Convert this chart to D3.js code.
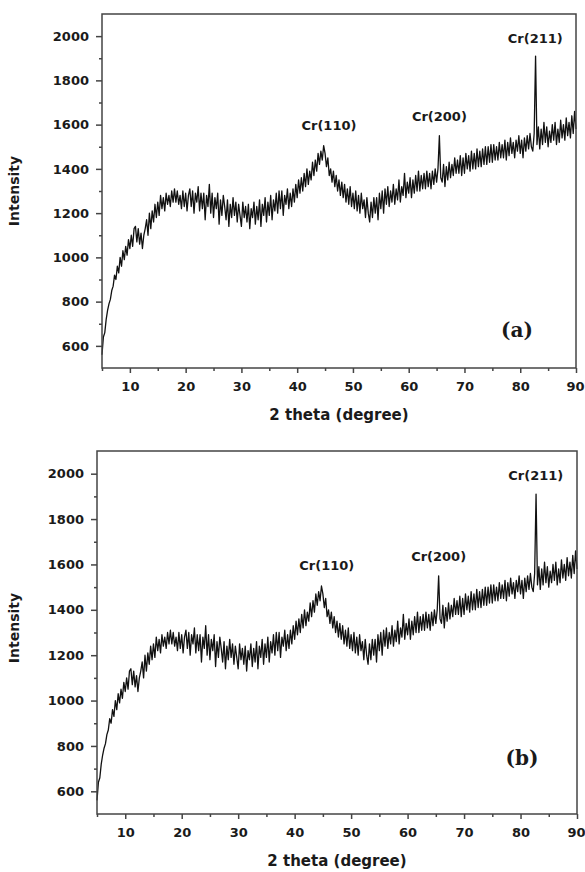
<!DOCTYPE html>
<html>
<head>
<meta charset="utf-8">
<script src="https://cdn.jsdelivr.net/npm/d3@7"></script>
<style>
  body { margin: 0; background: #fff; }
  text { font-family: "DejaVu Sans", "Liberation Sans", Arial, sans-serif; font-weight: bold; fill: #1a1a1a; }
</style>
</head>
<body>
<div id="chart"></div>
<script>
// scan grid: 2 theta from 5 deg, one reading every 0.25 deg
var thetaStart = 5,
	thetaStep = 0.25;

// intensity, 4 readings per degree (5.00, 5.25, 5.50, 5.75, ...)
var intensity = [
	560, 640, 660, 720,     760, 790, 810, 850,     870, 920, 900, 960,
	930, 1000, 960, 1030,   990, 1050, 1010, 1080,  1040, 1100, 1050, 1130,
	1140, 1070, 1130, 1060, 1110, 1040, 1100, 1130, 1170, 1100, 1200, 1130,
	1210, 1160, 1240, 1180, 1250, 1190, 1280, 1220, 1270, 1210, 1290, 1240,
	1280, 1230, 1300, 1250, 1310, 1250, 1300, 1240, 1280, 1220, 1300, 1230,
	1290, 1210, 1280, 1310, 1230, 1300, 1200, 1290, 1250, 1320, 1210, 1290,
	1220, 1290, 1170, 1280, 1230, 1330, 1200, 1290, 1180, 1270, 1220, 1290,
	1150, 1260, 1190, 1280, 1230, 1170, 1260, 1140, 1240, 1180, 1270, 1190,
	1250, 1160, 1240, 1190, 1140, 1250, 1180, 1230, 1160, 1240, 1130, 1220,
	1180, 1250, 1150, 1230, 1170, 1260, 1140, 1240, 1190, 1270, 1160, 1250,
	1190, 1280, 1170, 1260, 1210, 1290, 1200, 1300, 1220, 1300, 1190, 1280,
	1240, 1310, 1220, 1290, 1230, 1310, 1250, 1330, 1270, 1350, 1290, 1360,
	1300, 1380, 1320, 1400, 1330, 1390, 1350, 1430, 1370, 1440, 1390, 1470,
	1420, 1480, 1440, 1505, 1470, 1410, 1450, 1370, 1400, 1340, 1390, 1320,
	1370, 1300, 1350, 1280, 1340, 1270, 1330, 1250, 1310, 1240, 1320, 1230,
	1290, 1220, 1300, 1210, 1280, 1200, 1290, 1220, 1260, 1180, 1270, 1200,
	1160, 1250, 1180, 1270, 1200, 1270, 1170, 1290, 1220, 1300, 1200, 1310,
	1240, 1320, 1230, 1300, 1250, 1330, 1240, 1310, 1260, 1350, 1250, 1320,
	1280, 1380, 1270, 1340, 1290, 1360, 1270, 1350, 1290, 1370, 1300, 1390,
	1300, 1370, 1310, 1380, 1310, 1390, 1320, 1380, 1310, 1390, 1330, 1400,
	1340, 1400, 1550, 1360, 1340, 1420, 1320, 1410, 1350, 1430, 1360, 1420,
	1370, 1450, 1380, 1440, 1380, 1460, 1370, 1450, 1380, 1470, 1400, 1460,
	1390, 1480, 1400, 1470, 1400, 1490, 1410, 1480, 1410, 1490, 1420, 1500,
	1420, 1500, 1430, 1510, 1430, 1510, 1440, 1500, 1440, 1520, 1450, 1510,
	1450, 1530, 1440, 1520, 1460, 1540, 1470, 1520, 1450, 1530, 1480, 1550,
	1470, 1530, 1450, 1540, 1480, 1550, 1490, 1560, 1500, 1480, 1560, 1910,
	1510, 1590, 1490, 1580, 1510, 1610, 1520, 1590, 1500, 1570, 1520, 1600,
	1530, 1610, 1510, 1580, 1520, 1620, 1540, 1600, 1530, 1630, 1550, 1610,
	1540, 1640, 1560, 1660, 1580
];

var xMajorTicks = [10, 20, 30, 40, 50, 60, 70, 80, 90];
var xMinorTicks = [5, 15, 25, 35, 45, 55, 65, 75, 85];
var yMajorTicks = [600, 800, 1000, 1200, 1400, 1600, 1800, 2000];
var yMinorTicks = [700, 900, 1100, 1300, 1500, 1700, 1900];

var peakNames = ['Cr(110)', 'Cr(200)', 'Cr(211)'];
var peakTheta = [45.7, 65.5, 82.7];
var peakLabelIntensity = [1575, 1615, 1970];

var panelNames = ['(a)', '(b)'];

var points = intensity.map(function(v, i) {
	return { theta: thetaStart + i * thetaStep, value: v };
});

var svg = d3.select('#chart')
	.append('svg')
	.attr('width', 585)
	.attr('height', 872);

// where each panel sits on the page
var panels = [
	{ left: 102, right: 576, top: 14, bottom: 368, labelDx: 59, labelDy: 38, yTitle: 191 },
	{ left: 97, right: 577, top: 451, bottom: 814, labelDx: 55, labelDy: 56, yTitle: 628 }
];

panels.forEach(function(p, k) {
	var xScale = d3.scaleLinear()
		.domain([5, 90])
		.range([p.left, p.right]);

	var yScale = d3.scaleLinear()
		.domain([500, 2100])
		.range([p.bottom, p.top]);

	var g = svg.append('g');

	// curve
	var line = d3.line()
		.x(function(d) { return xScale(d.theta); })
		.y(function(d) { return yScale(d.value); });

	g.append('path')
		.datum(points)
		.attr('d', line)
		.attr('fill', 'none')
		.attr('stroke', '#111')
		.attr('stroke-width', 1.3)
		.attr('stroke-linejoin', 'round');

	// frame
	g.append('rect')
		.attr('x', p.left)
		.attr('y', p.top)
		.attr('width', p.right - p.left)
		.attr('height', p.bottom - p.top)
		.attr('fill', 'none')
		.attr('stroke', '#444')
		.attr('stroke-width', 1.5);

	// axes
	var xMajor = g.append('g')
		.attr('transform', 'translate(0,' + p.bottom + ')')
		.call(d3.axisBottom(xScale).tickValues(xMajorTicks).tickSize(5).tickPadding(9)
			.tickFormat(d3.format('d')));
	var xMinor = g.append('g')
		.attr('transform', 'translate(0,' + p.bottom + ')')
		.call(d3.axisBottom(xScale).tickValues(xMinorTicks).tickSize(3).tickFormat(''));
	var yMajor = g.append('g')
		.attr('transform', 'translate(' + p.left + ',0)')
		.call(d3.axisLeft(yScale).tickValues(yMajorTicks).tickSize(6).tickPadding(7)
			.tickFormat(d3.format('d')));
	var yMinor = g.append('g')
		.attr('transform', 'translate(' + p.left + ',0)')
		.call(d3.axisLeft(yScale).tickValues(yMinorTicks).tickSize(3).tickFormat(''));

	[xMajor, xMinor, yMajor, yMinor].forEach(function(ax) {
		ax.select('.domain').remove();
		ax.selectAll('line').attr('stroke', '#444').attr('stroke-width', 1.5);
		ax.selectAll('text')
			.attr('fill', '#1a1a1a')
			.style('font-family', '"DejaVu Sans", Arial, sans-serif')
			.style('font-weight', 'bold')
			.style('font-size', '13px');
	});

	// the last x label sits against the page edge
	xMajor.selectAll('text')
		.filter(function(d) { return d === 90; })
		.attr('dx', -1);

	// axis titles
	g.append('text')
		.attr('x', (p.left + p.right) / 2)
		.attr('y', p.bottom + 52)
		.attr('text-anchor', 'middle')
		.style('font-size', '15px')
		.text('2 theta (degree)');

	g.append('text')
		.attr('transform', 'translate(19,' + p.yTitle + ') rotate(-90)')
		.attr('text-anchor', 'middle')
		.style('font-size', '14px')
		.text('Intensity');

	// peak labels
	peakNames.forEach(function(name, i) {
		g.append('text')
			.attr('x', xScale(peakTheta[i]))
			.attr('y', yScale(peakLabelIntensity[i]))
			.attr('text-anchor', 'middle')
			.style('font-size', '13px')
			.text(name);
	});

	// panel letter
	g.append('text')
		.attr('x', p.right - p.labelDx)
		.attr('y', p.bottom - p.labelDy + 7)
		.attr('text-anchor', 'middle')
		.style('font-family', '"DejaVu Serif", "Liberation Serif", serif')
		.style('font-size', '20px')
		.text(panelNames[k]);
});
</script>
</body>
</html>
